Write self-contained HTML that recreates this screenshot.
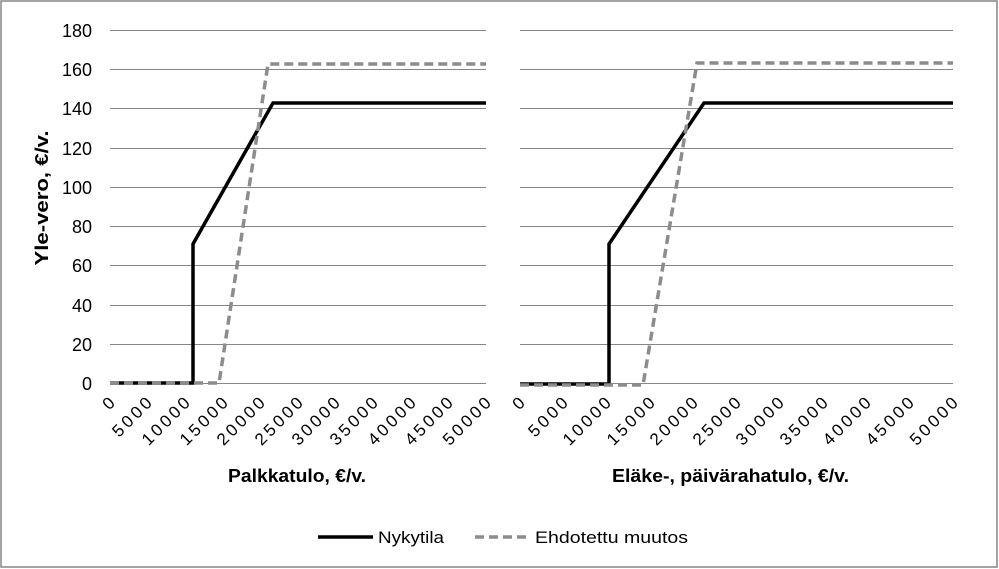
<!DOCTYPE html>
<html><head><meta charset="utf-8"><style>body{margin:0;background:#fff}svg{display:block}text{font-family:"Liberation Sans",sans-serif;fill:#000}</style></head><body>
<svg width="999" height="569" viewBox="0 0 999 569">
<rect x="1" y="1" width="996" height="566" fill="#fff" stroke="#868686" stroke-width="1.5"/>
<g stroke="#868686" stroke-width="1">
<line x1="110" y1="30.5" x2="486" y2="30.5"/><line x1="110" y1="69.5" x2="486" y2="69.5"/><line x1="110" y1="108.5" x2="486" y2="108.5"/><line x1="110" y1="148.5" x2="486" y2="148.5"/><line x1="110" y1="187.5" x2="486" y2="187.5"/><line x1="110" y1="226.5" x2="486" y2="226.5"/><line x1="110" y1="265.5" x2="486" y2="265.5"/><line x1="110" y1="305.5" x2="486" y2="305.5"/><line x1="110" y1="344.5" x2="486" y2="344.5"/><line x1="110" y1="383.5" x2="486" y2="383.5"/>
<line x1="520" y1="30.5" x2="953" y2="30.5"/><line x1="520" y1="69.5" x2="953" y2="69.5"/><line x1="520" y1="108.5" x2="953" y2="108.5"/><line x1="520" y1="148.5" x2="953" y2="148.5"/><line x1="520" y1="187.5" x2="953" y2="187.5"/><line x1="520" y1="226.5" x2="953" y2="226.5"/><line x1="520" y1="265.5" x2="953" y2="265.5"/><line x1="520" y1="305.5" x2="953" y2="305.5"/><line x1="520" y1="344.5" x2="953" y2="344.5"/><line x1="520" y1="383.5" x2="953" y2="383.5"/>
</g>
<g font-size="18" text-anchor="end">
<text x="92" y="37">180</text><text x="92" y="76">160</text><text x="92" y="115">140</text><text x="92" y="155">120</text><text x="92" y="194">100</text><text x="92" y="233">80</text><text x="92" y="272">60</text><text x="92" y="312">40</text><text x="92" y="351">20</text><text x="92" y="390">0</text>
</g>
<text transform="translate(48,198) rotate(-90)" font-size="18" font-weight="bold" text-anchor="middle" textLength="135" lengthAdjust="spacingAndGlyphs">Yle-vero, €/v.</text>
<g font-size="17" text-anchor="end">
<text transform="translate(116,404) rotate(-45)">0</text><text transform="translate(153,404) rotate(-45)" textLength="48">5000</text><text transform="translate(191,404) rotate(-45)" textLength="60">10000</text><text transform="translate(229,404) rotate(-45)" textLength="60">15000</text><text transform="translate(266,404) rotate(-45)" textLength="60">20000</text><text transform="translate(304,404) rotate(-45)" textLength="60">25000</text><text transform="translate(341,404) rotate(-45)" textLength="60">30000</text><text transform="translate(379,404) rotate(-45)" textLength="60">35000</text><text transform="translate(417,404) rotate(-45)" textLength="60">40000</text><text transform="translate(454,404) rotate(-45)" textLength="60">45000</text><text transform="translate(492,404) rotate(-45)" textLength="60">50000</text>
<text transform="translate(526,404) rotate(-45)">0</text><text transform="translate(569,404) rotate(-45)" textLength="48">5000</text><text transform="translate(612,404) rotate(-45)" textLength="60">10000</text><text transform="translate(656,404) rotate(-45)" textLength="60">15000</text><text transform="translate(699,404) rotate(-45)" textLength="60">20000</text><text transform="translate(742,404) rotate(-45)" textLength="60">25000</text><text transform="translate(785,404) rotate(-45)" textLength="60">30000</text><text transform="translate(829,404) rotate(-45)" textLength="60">35000</text><text transform="translate(872,404) rotate(-45)" textLength="60">40000</text><text transform="translate(915,404) rotate(-45)" textLength="60">45000</text><text transform="translate(959,404) rotate(-45)" textLength="60">50000</text>
</g>
<text x="228" y="482" font-size="18" font-weight="bold" textLength="138" lengthAdjust="spacingAndGlyphs">Palkkatulo, €/v.</text>
<text x="612" y="482" font-size="18" font-weight="bold" textLength="237" lengthAdjust="spacingAndGlyphs">Eläke-, päivärahatulo, €/v.</text>
<g fill="none" stroke-width="3.5">
<polyline stroke="#000" points="110,383 193,383 193,244 273,103 486,103"/>
<polyline stroke="#8c8c8c" stroke-dasharray="9,5" points="110,383 219,383 268,64 486,64"/>
<polyline stroke="#000" points="520,384 609,384 609,244 704,103 953,103"/>
<polyline stroke="#8c8c8c" stroke-dasharray="9,5" points="520,385 643,385 697,63 953,63"/>
<line x1="318" y1="537" x2="373" y2="537" stroke="#000"/>
<line x1="475" y1="537" x2="531" y2="537" stroke="#8c8c8c" stroke-dasharray="9,5"/>
</g>
<text x="378" y="543" font-size="17" textLength="66" lengthAdjust="spacingAndGlyphs">Nykytila</text>
<text x="535" y="543" font-size="17" textLength="153" lengthAdjust="spacingAndGlyphs">Ehdotettu muutos</text>
</svg>
</body></html>
